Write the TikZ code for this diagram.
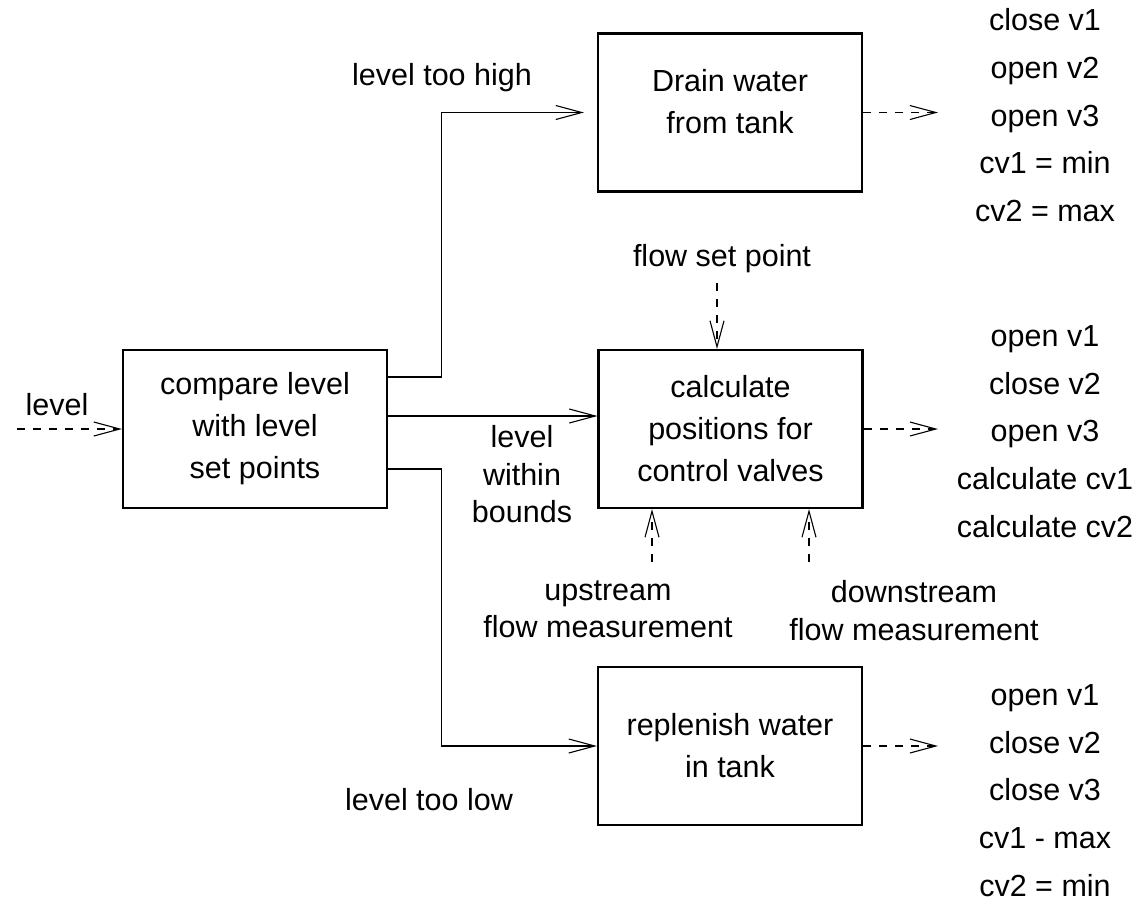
\documentclass[tikz,border=0pt]{standalone}
\usepackage{fontspec}
\setmainfont{Liberation Sans}
\usetikzlibrary{arrows.meta}
\begin{document}
\begin{tikzpicture}[x=1pt,y=-1pt,
  every node/.style={font=\fontsize{30.5}{42}\selectfont, inner sep=0pt},
  box/.style={draw, line width=2.2pt, minimum width=264pt, minimum height=158pt, align=center},
  lbl/.style={align=center, font=\fontsize{30.5}{37.5}\selectfont},
  lst/.style={align=center, font=\fontsize{30.5}{47.75}\selectfont, anchor=north},
  flow/.style={line width=1.1pt, -{Straight Barb[length=26pt,width=14pt,line width=1.1pt]}},
  dflow/.style={flow, dash pattern=on 8pt off 8pt},
]
\useasboundingbox (0,0) rectangle (1142,903);

% process boxes
\node[box] (cmp)   at (255,429)   {compare level\\with level\\set points};
\node[box, label={[name=draintext, align=center, yshift=11pt]center:{Drain water\\from tank}}]
      (drain) at (730,112.5) {};
\node[box] (calc)  at (730.5,429) {calculate\\positions for\\control valves};
\node[box] (repl)  at (730,746)   {replenish water\\in tank};

% signal labels
\node[anchor=base] (lvl) at (57,415)  {level};
\node[anchor=base] (hi)  at (442,85)  {level too high};
\node[anchor=base] (lo)  at (429,810) {level too low};
\node[anchor=base] (fsp) at (722,266) {flow set point};
\node[lbl, anchor=north] (within) at (522,425.2) {level\\within\\bounds};
\node[lbl, anchor=north] (up)     at (608,580.2) {upstream\\flow measurement};
\node[lbl, anchor=north] (down)   at (914,580.2) {downstream\\flow measurement};

% valve actions
\node[lst] (acthi)  at (1045,8.2)   {close v1\\open v2\\open v3\\cv1 = min\\cv2 = max};
\node[lst] (actok)  at (1045,325.2) {open v1\\close v2\\open v3\\calculate cv1\\calculate cv2};
\node[lst] (actlo)  at (1045,684.2) {open v1\\close v2\\close v3\\cv1 - max\\cv2 = min};

% level input
\coordinate (lvin) at (17,429);
\draw[dflow] (lvin) -- (cmp.west);

% decision branches
\draw[flow, shorten >=13pt] ([yshift=52pt]cmp.east) -- ++(53,0) |- (drain.west);
\draw[flow] ([yshift=13pt]cmp.east) -- ([yshift=13pt]cmp.east -| calc.west);
\draw[flow] ([yshift=-40pt]cmp.east) -- ++(53,0) |- (repl.west);

% outputs to valves
\coordinate (dout) at (938,112.5);
\coordinate (cout) at (938,429);
\coordinate (rout) at (938,746);
\draw[dflow] (drain.east) -- (dout);
\draw[dflow] (calc.east) -- (cout);
\draw[dflow] (repl.east) -- (rout);

% measurements into the calculation
\coordinate (fspe) at (717,283);
\coordinate (upe)  at (652,562);
\coordinate (dne)  at (809,562);
\draw[dflow] (fspe) -- (fspe |- calc.north);
\draw[dflow] (upe) -- (upe |- calc.south);
\draw[dflow] (dne) -- (dne |- calc.south);
\end{tikzpicture}
\end{document}
